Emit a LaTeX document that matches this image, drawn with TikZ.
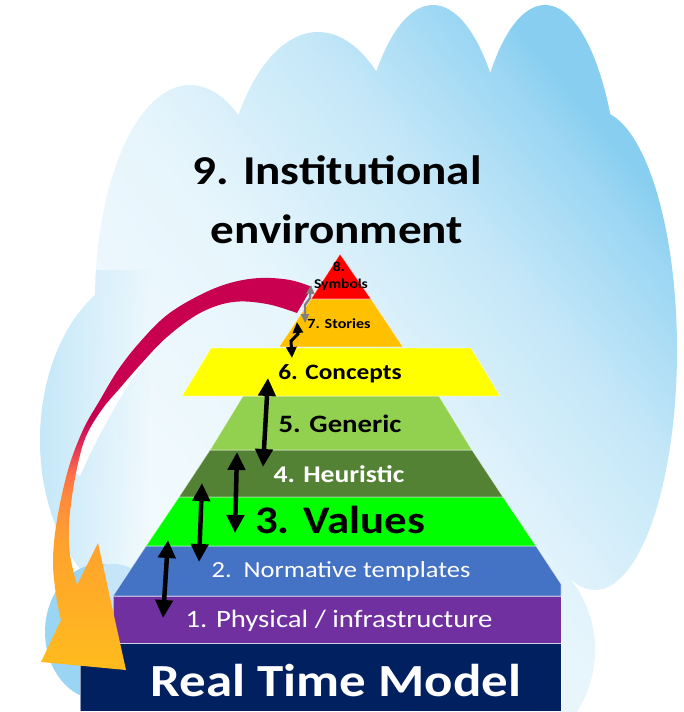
\documentclass[tikz,border=0pt]{standalone}
\usepackage{fontspec}
\setmainfont{Carlito}[FakeStretch=1.15]
\usetikzlibrary{arrows.meta,fadings}
\definecolor{cloudlt}{HTML}{F6FCFF}
\definecolor{cloudmd}{HTML}{E6F5FC}
\definecolor{cloudsk}{HTML}{C4E7F8}
\definecolor{cloudsm}{HTML}{9BD6F3}
\definecolor{cloudbl}{HTML}{88CEF0}
\definecolor{bubdk}{HTML}{9AD5F3}
\definecolor{bublt}{HTML}{C4E6F8}
\definecolor{lvred}{HTML}{FF0000}
\definecolor{lvamb}{HTML}{FFC000}
\definecolor{lvyel}{HTML}{FFFF00}
\definecolor{lvlgr}{HTML}{92D050}
\definecolor{lvdgr}{HTML}{548235}
\definecolor{lvgrn}{HTML}{00FF00}
\definecolor{lvblu}{HTML}{4472C4}
\definecolor{lvpur}{HTML}{7030A0}
\definecolor{lvnav}{HTML}{002060}
\definecolor{arrcrim}{HTML}{C8004F}
\definecolor{arrred}{HTML}{DC2A58}
\definecolor{arrcor}{HTML}{FF6E48}
\definecolor{arrorb}{HTML}{FF8A3C}
\definecolor{arrora}{HTML}{FFA22E}
\definecolor{arryel}{HTML}{FFBC1C}
\pgfdeclareverticalshading{bandfade}{100bp}{color(0bp)=(arryel); color(25bp)=(arryel); color(41bp)=(arrora); color(47bp)=(arrorb); color(50bp)=(arrcor); color(54bp)=(arrred); color(57bp)=(arrcrim); color(100bp)=(arrcrim)}
\pgfdeclareverticalshading{cloudfade}{100bp}{color(0bp)=(cloudlt); color(25bp)=(cloudlt); color(50bp)=(cloudmd); color(63bp)=(cloudsk); color(72bp)=(cloudsm); color(75bp)=(cloudbl); color(100bp)=(cloudbl)}
\newcommand{\fsz}[1]{\fontsize{#1}{#1}\selectfont}
\tikzset{
  lvl/.style={draw=white,draw opacity=0.55,line width=0.8pt},
  lbl/.style={anchor=base,inner sep=0pt},
  dbl/.style={{Triangle[width=17pt,length=18pt]}-{Triangle[width=17pt,length=18pt]},line width=4.5pt},
  zig/.style={{Triangle[width=10pt,length=11pt]}-{Triangle[width=10pt,length=11pt]},line width=3pt},
  gzig/.style={{Triangle[width=8pt,length=9pt]}-{Triangle[width=8pt,length=9pt]},line width=2.3pt,draw=gray},
}
\begin{document}
\begin{tikzpicture}[x=1pt,y=-1pt]
  \useasboundingbox (0,0) rectangle (683,712);
  % cloud
  \begin{scope}
    \clip (155,440) ellipse[x radius=115,y radius=170]
          (190,300) ellipse[x radius=95,y radius=215]
          (318,242) ellipse[x radius=100,y radius=210]
          (433,230) ellipse[x radius=80,y radius=225]
          (545,220) ellipse[x radius=75,y radius=215]
          (595,350) ellipse[x radius=82,y radius=240]
          (360,420) ellipse[x radius=240,y radius=280]
          (490,650) ellipse[x radius=105,y radius=110];
    \shade[shading=cloudfade,shading angle=-50] (0,0) rectangle (683,712);
    \fill[cloudsk,path fading=east] (38,270) rectangle (150,640);
  \end{scope}
  \fill[bubdk] (100,632) ellipse[x radius=55,y radius=68];
  \fill[bublt] (114,620) ellipse[x radius=44,y radius=56];

  \node[lbl,font=\bfseries\fsz{41}] (inst) at (337,184) {9. Institutional};
  \node[lbl,font=\bfseries\fsz{41}] (env) at (337,243) {environment};

  % pyramid
  \fill[lvnav,lvl] (80,643) rectangle (561,711);
  \fill[lvpur,lvl] (113,596) rectangle (561,643);
  \fill[lvblu,lvl] (146,546) -- (536,546) -- (561,584) -- (561,596) -- (113,596) -- cycle;
  \fill[lvgrn,lvl] (179,497) -- (503,497) -- (536,546) -- (146,546) -- cycle;
  \fill[lvdgr,lvl] (210,450) -- (472,450) -- (503,497) -- (179,497) -- cycle;
  \fill[lvlgr,lvl] (243,396) -- (439,396) -- (472,450) -- (210,450) -- cycle;
  \fill[lvyel,lvl] (211,348) -- (471,348) -- (500,396) -- (182,396) -- cycle;
  \fill[lvamb,lvl] (311,299) -- (371,299) -- (403,347) -- (279,347) -- cycle;
  \fill[lvred,lvl] (340,254) -- (371,299) -- (311,299) -- cycle;

  % curved arrow
  \fill[white] plot[smooth] coordinates {(162,343) (138,371) (121,397) (105,425) (91,452) (80,476)}
    -- plot[smooth] coordinates {(72,470) (85,432) (100,405) (117,385) (140,358) (165,335)} -- cycle;
  \shade[shading=bandfade] plot[smooth,tension=0.6] coordinates {(312,287) (290,280) (260,278) (230,283) (200,295) (167,315) (140,342) (118,370) (100,400) (83,430) (68,470) (57,520) (53,560) (56,595) (61,620)}
    -- (41,662) -- (126,670) -- (98,543)
    -- plot[smooth,tension=0.6] coordinates {(77,585) (70,555) (69,525) (73,490) (80,455) (88,432) (103,408) (120,388) (140,365) (167,337) (200,313) (233,302) (267,304) (297,313)} -- cycle;

  \node[lbl,font=\bfseries\fsz{13.5}] (s8) at (339,271) {8.};
  \node[lbl,font=\bfseries\fsz{13.5}] (sym) at (341,288) {Symbols};
  \node[lbl,font=\bfseries\fsz{14}] (sto) at (339,328) {7. Stories};
  \node[lbl,font=\bfseries\fsz{22}] (con) at (340,379) {6. Concepts};
  \node[lbl,font=\bfseries\fsz{25}] (gen) at (340,432) {5. Generic};
  \node[lbl,font=\bfseries\fsz{24},text=white] (heu) at (339,482) {4. Heuristic};
  \node[lbl,font=\bfseries\fsz{39}] (val) at (340,533) {3. Values};
  \node[lbl,font=\fsz{23},text=white] (nor) at (341,577) {2.\ \ Normative templates};
  \node[lbl,font=\fsz{25},text=white] (phy) at (339,627) {1. Physical / infrastructure};
  \node[lbl,font=\bfseries\fsz{46},text=white] (rtm) at (336,696) {Real Time Model};

  % links between levels
  \coordinate (g1t) at (311,285);
  \coordinate (g1b) at (305,323);
  \coordinate (z1t) at (297,322);
  \coordinate (z1b) at (292,358);
  \coordinate (a1t) at (268,378);
  \coordinate (a1b) at (263,467);
  \coordinate (a2t) at (237,452);
  \coordinate (a2b) at (235,533);
  \coordinate (a3t) at (202,483);
  \coordinate (a3b) at (199,562);
  \coordinate (a4t) at (168,540);
  \coordinate (a4b) at (163,618);
  \draw[gzig] (g1t) -- ++(-1,13) -- ++(-5,7) -- (g1b);
  \draw[zig] (z1t) -- ++(1,12) -- ++(-7,7) -- (z1b);
  \draw[dbl] (a1t) -- (a1b);
  \draw[dbl] (a2t) -- (a2b);
  \draw[dbl] (a3t) -- (a3b);
  \draw[dbl] (a4t) -- (a4b);
\end{tikzpicture}
\end{document}
